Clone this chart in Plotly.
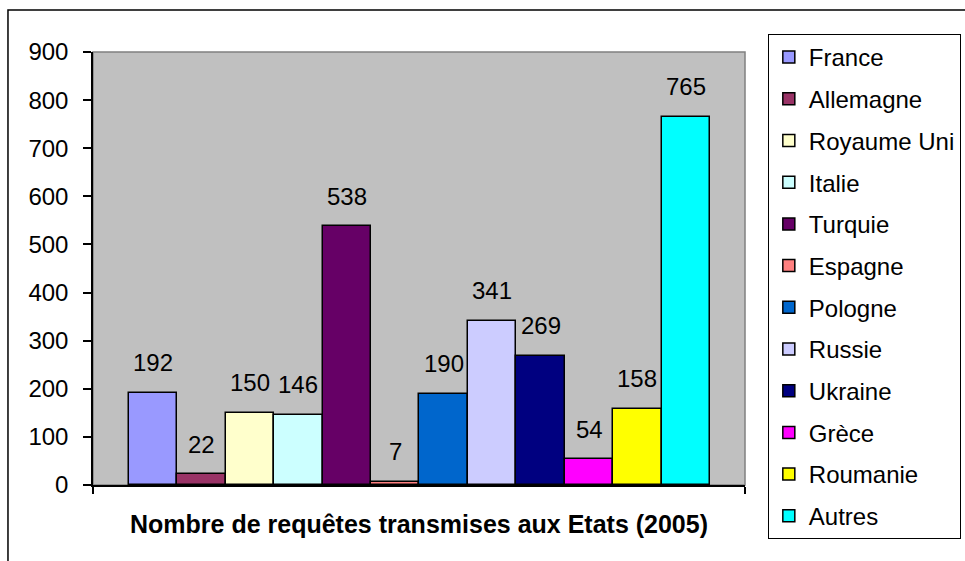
import plotly.graph_objects as go

pays = ["France", "Allemagne", "Royaume Uni", "Italie", "Turquie", "Espagne",
        "Pologne", "Russie", "Ukraine", "Grèce", "Roumanie", "Autres"]
requetes = [192, 22, 150, 146, 538, 7, 190, 341, 269, 54, 158, 765]
couleurs = ["#9999FF", "#993366", "#FFFFCC", "#CCFFFF", "#660066", "#FF8080",
            "#0066CC", "#CCCCFF", "#000080", "#FF00FF", "#FFFF00", "#00FFFF"]
titre_x = "Nombre de requêtes transmises aux Etats (2005)"

police = "Liberation Sans, Arial, sans-serif"

fig = go.Figure()
for i, (nom, val, col) in enumerate(zip(pays, requetes, couleurs)):
    fig.add_trace(go.Bar(
        x=[i], y=[val], name=nom, width=1, legendgroup=nom,
        marker=dict(color=col, line=dict(color="black", width=1.5)),
    ))
    # labels au-dessus des barres
    fig.add_annotation(x=i, y=val, text=str(val), showarrow=False,
                       yanchor="middle", yshift=30,
                       font=dict(family=police, size=24, color="black"))

xmin, xmax = -1.24, 12.22

# bordure grise de la zone de tracé
fig.add_shape(type="rect", xref="paper", yref="paper", x0=0, y0=0, x1=1, y1=1,
              line=dict(color="#808080", width=1.5), layer="below")
# cadre extérieur du graphique
fig.add_shape(type="rect", xref="paper", yref="paper", x0=-0.1304, y0=1.097,
              x1=1.4, y1=-0.3, line=dict(color="black", width=1.5), layer="below")

fig.update_layout(
    width=965, height=561,
    margin=dict(l=93, r=220, t=52, b=76, autoexpand=False),
    paper_bgcolor="white", plot_bgcolor="#C0C0C0",
    font=dict(family=police, size=24, color="black"),
    bargap=0, showlegend=True,
    legend=dict(x=1.035, y=1.0416, xanchor="left", yanchor="top",
                bordercolor="black", borderwidth=1, bgcolor="white",
                font=dict(size=24), tracegroupgap=7.5, maxheight=560,
                itemclick=False, itemdoubleclick=False),
)
fig.update_xaxes(
    range=[xmin, xmax], showgrid=False, zeroline=False,
    showline=True, linecolor="black", linewidth=1.5,
    tickvals=[xmin, xmax], ticktext=["", ""], ticks="outside",
    ticklen=7, tickcolor="black", tickwidth=1.5,
    title=dict(text="<b>" + titre_x + "</b>", standoff=18,
               font=dict(size=25)),
)
fig.update_yaxes(
    range=[0, 900], dtick=100, showgrid=False, zeroline=False,
    showline=True, linecolor="black", linewidth=1.5,
    ticks="outside", ticklen=8, tickcolor="black", tickwidth=1.5,
    ticklabelstandoff=10, tickfont=dict(size=24),
)

fig.write_html("out.html", config={"displayModeBar": False},
               post_script="document.body.style.margin='0';")
